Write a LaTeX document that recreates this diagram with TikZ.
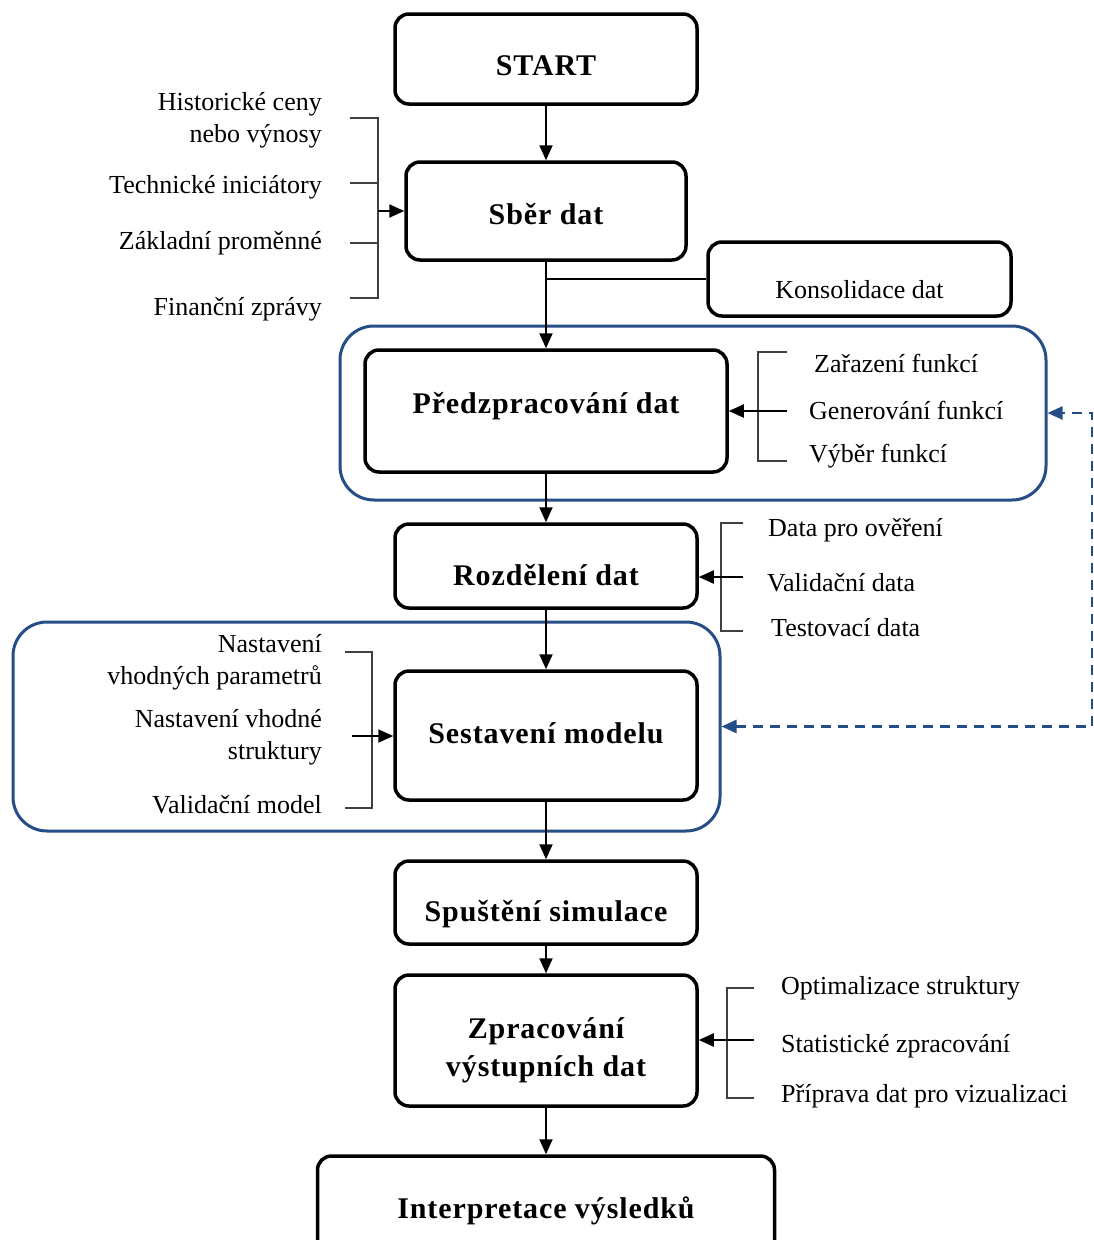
\documentclass[tikz,border=0pt]{standalone}
\usepackage{fontspec}
\setmainfont{Liberation Serif}
\newfontfamily\procfont[LetterSpace=3.0]{Liberation Serif}
\usetikzlibrary{positioning, arrows.meta}
\definecolor{grpblue}{RGB}{38,78,134}
\newcommand{\dn}[2]{\raisebox{-#1pt}[\height][\depth]{#2}}
\tikzset{
    proc/.style={draw, rounded corners=14pt, line width=3.5pt, align=center, font=\procfont\fontsize{30}{38}\selectfont\bfseries, inner sep=0pt},
    grp/.style={draw=grpblue, rounded corners=34pt, line width=3pt, inner sep=0pt},
    lbl/.style={font=\fontsize{26}{32}\selectfont, inner sep=0pt},
    flow/.style={-{Triangle[length=15pt, width=13pt]}, line width=2pt},
    brk/.style={line width=1.5pt, draw=black!75},
    fb/.style={{Triangle[length=15pt, width=13pt]}-{Triangle[length=15pt, width=13pt]}, line width=2.5pt, grpblue, dash pattern=on 10pt off 7pt}
}
\begin{document}
\begin{tikzpicture}[x=1pt, y=-1pt]
    \useasboundingbox (0,0) rectangle (1094,1240);
    \fill[white] (0,0) rectangle (1094,1240);
    % groups
    \node[grp, minimum width=706pt, minimum height=174pt] (grp1) at (693,413) {};
    \node[grp, minimum width=707pt, minimum height=209pt] (grp2) at (366.5,726.5) {};
    % main steps
    \node[proc, minimum width=302pt, minimum height=90pt] (start) at (546,59) {\dn{7}{START}};
    \node[proc, minimum width=280pt, minimum height=98pt] (sber) at (546,211) {\dn{3}{Sběr dat}};
    \node[proc, font=\fontsize{26}{32}\selectfont, minimum width=303pt, minimum height=74pt] (kons) at (859.5,279) {\dn{11}{Konsolidace dat}};
    \node[proc, minimum width=362pt, minimum height=122pt] (pred) at (546,411) {\dn{-5}{Předzpracování dat}};
    \node[proc, minimum width=302pt, minimum height=84pt] (rozd) at (546,566) {\dn{9}{Rozdělení dat}};
    \node[proc, minimum width=302pt, minimum height=129pt] (sest) at (546,735.5) {\dn{-2}{Sestavení modelu}};
    \node[proc, minimum width=302pt, minimum height=83pt] (spus) at (546,902.5) {\dn{12}{Spuštění simulace}};
    \node[proc, minimum width=302pt, minimum height=131pt] (zprac) at (546,1040.5) {\dn{9}{\begin{tabular}{@{}c@{}}Zpracování\\výstupních dat\end{tabular}}};
    \node[proc, minimum width=457pt, minimum height=110pt] (interp) at (546,1211) {Interpretace výsledků};
    % flow
    \draw[flow] (start) -- (sber);
    \draw[flow] (sber) -- (pred);
    \draw[line width=1.5pt] (kons.west) -- (kons.west -| sber.south);
    \draw[flow] (pred) -- (rozd);
    \draw[flow] (rozd) -- (sest);
    \draw[flow] (sest) -- (spus);
    \draw[flow] (spus) -- (zprac);
    \draw[flow] (zprac) -- (interp);
    % inputs of Sber dat
    \draw[brk] (350,118) -| (378,298) -- (350,298);
    \draw[brk] (350,183) -- (378,183);
    \draw[brk] (350,243) -- (378,243);
    \coordinate (b1) at (378,211);
    \draw[flow] (b1) -- (sber);
    \node[lbl, anchor=east, align=right] (h1) at (322,120) {Historické ceny\\nebo výnosy};
    \node[lbl, anchor=east] (h2) at (322,187) {Technické iniciátory};
    \node[lbl, anchor=east] (h3) at (322,243) {Základní proměnné};
    \node[lbl, anchor=east] (h4) at (322,309) {Finanční zprávy};
    % preprocessing
    \draw[brk] (787,352) -| (758,461) -- (787,461);
    \coordinate (b2) at (787,411);
    \draw[flow] (b2) -- (pred);
    \node[lbl, anchor=west] (p1) at (814,363) {Zařazení funkcí};
    \node[lbl, anchor=west] (p2) at (809,410) {Generování funkcí};
    \node[lbl, anchor=west] (p3) at (809,456) {Výběr funkcí};
    % split
    \draw[brk] (743,523) -| (721,631) -- (743,631);
    \coordinate (b3) at (743,577);
    \draw[flow] (b3) -- (b3 -| rozd.east);
    \node[lbl, anchor=west] (r1) at (768,530) {Data pro ověření};
    \node[lbl, anchor=west] (r2) at (767,583) {Validační data};
    \node[lbl, anchor=west] (r3) at (771,628) {Testovací data};
    % model
    \draw[brk] (345,652) -| (372,808) -- (345,808);
    \coordinate (b4) at (352,736);
    \draw[flow] (b4) -- (b4 -| sest.west);
    \node[lbl, anchor=east, align=right] (m1) at (322,662) {Nastavení\\vhodných parametrů};
    \node[lbl, anchor=east, align=right] (m2) at (322,737) {Nastavení vhodné\\struktury};
    \node[lbl, anchor=east] (m3) at (322,805) {Validační model};
    % output processing
    \draw[brk] (754,988) -| (727,1098) -- (754,1098);
    \coordinate (b5) at (754,1040);
    \draw[flow] (b5) -- (b5 -| zprac.east);
    \node[lbl, anchor=west] (z1) at (781,988) {Optimalizace struktury};
    \node[lbl, anchor=west] (z2) at (781,1046) {Statistické zpracování};
    \node[lbl, anchor=west] (z3) at (781,1096) {Příprava dat pro vizualizaci};
    % feedback
    \coordinate (fbc) at (1092,726.5);
    \draw[fb] (grp2.east) -- (fbc) |- (grp1.east);
\end{tikzpicture}
\end{document}
